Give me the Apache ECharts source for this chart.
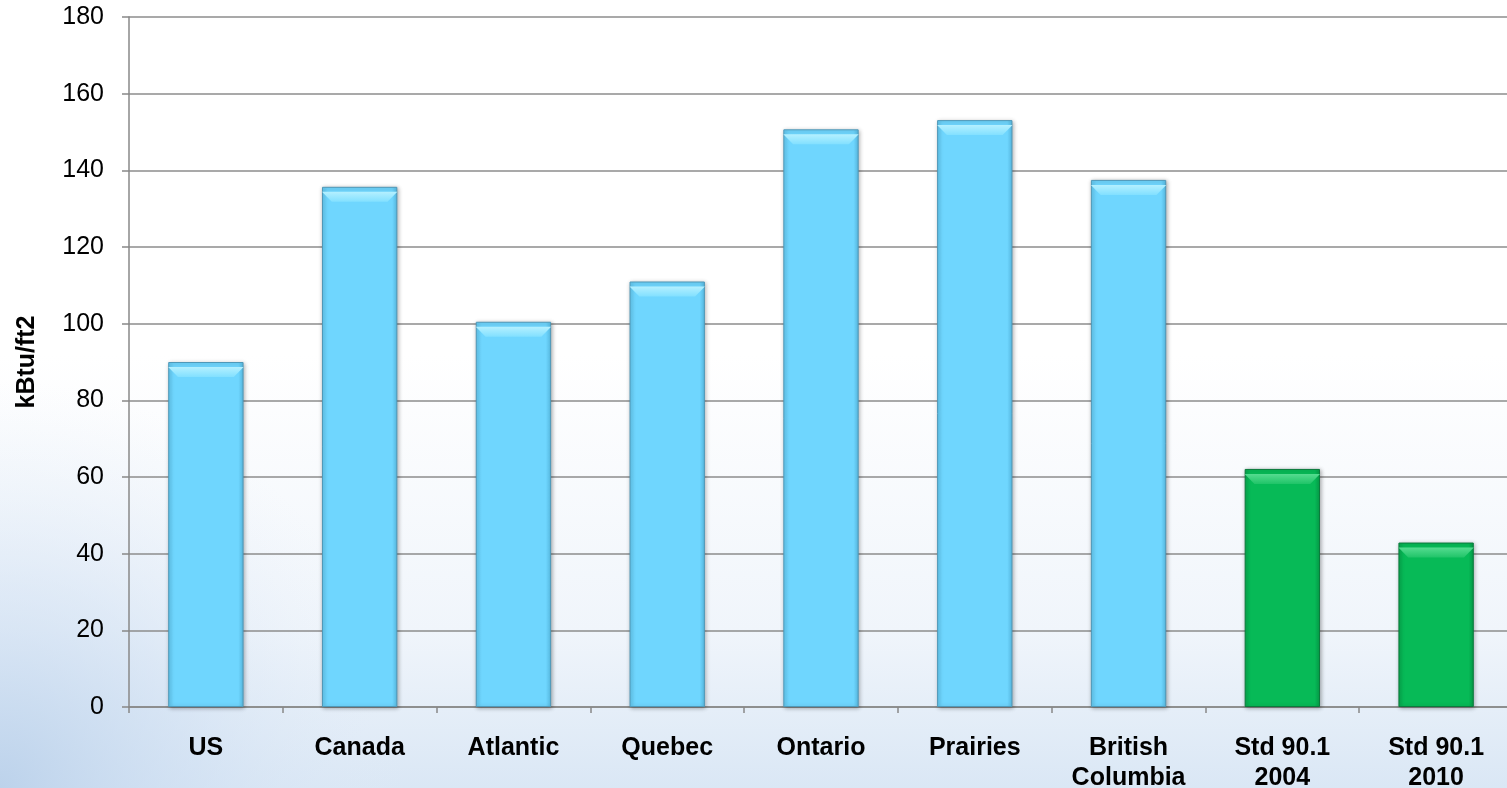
<!DOCTYPE html>
<html>
<head>
<meta charset="utf-8">
<script src="https://cdn.jsdelivr.net/npm/echarts@6/dist/echarts.min.js"></script>
<style>
html,body{margin:0;padding:0;background:#fff;}
#chart{width:1507px;height:788px;}
</style>
</head>
<body>
<div id="chart"></div>
<script>
const categories = ['US', 'Canada', 'Atlantic', 'Quebec', 'Ontario', 'Prairies', 'British\nColumbia', 'Std 90.1\n2004', 'Std 90.1\n2010'];
const values = [90, 135.7, 100.5, 111, 150.7, 153.1, 137.5, 62.1, 42.9];
const isStandard = [false, false, false, false, false, false, false, true, true];
const yAxisName = 'kBtu/ft2';

const blue = {
  type: 'linear', x: 0, y: 0, x2: 1, y2: 0,
  colorStops: [{offset: 0, color: '#62c8f0'}, {offset: 0.07, color: '#6fd6fe'}, {offset: 0.93, color: '#6fd6fe'}, {offset: 1, color: '#58bde6'}]
};
const green = {
  type: 'linear', x: 0, y: 0, x2: 1, y2: 0,
  colorStops: [{offset: 0, color: '#07a94e'}, {offset: 0.07, color: '#07ba57'}, {offset: 0.93, color: '#07ba57'}, {offset: 1, color: '#069e48'}]
};
const blueBevel = {
  type: 'linear', x: 0, y: 0, x2: 0, y2: 1,
  colorStops: [{offset: 0, color: '#b4f0ff'}, {offset: 1, color: '#82e0ff'}]
};
const greenBevel = {
  type: 'linear', x: 0, y: 0, x2: 0, y2: 1,
  colorStops: [{offset: 0, color: '#55dc90'}, {offset: 1, color: '#20c468'}]
};

const chart = echarts.init(document.getElementById('chart'));
chart.setOption({
  backgroundColor: {
    type: 'linear', x: 0, y: 0, x2: 0, y2: 1,
    colorStops: [{offset: 0, color: '#ffffff'}, {offset: 0.45, color: '#ffffff'}, {offset: 0.8, color: '#f0f5fb'}, {offset: 1, color: '#dae7f5'}]
  },
  graphic: [{
    type: 'rect', silent: true, z: -10,
    shape: {x: 0, y: 380, width: 900, height: 408},
    style: {
      fill: {
        type: 'radial', x: 0, y: 1, r: 1,
        colorStops: [{offset: 0, color: 'rgba(185,208,234,0.9)'}, {offset: 0.5, color: 'rgba(205,222,242,0.5)'}, {offset: 1, color: 'rgba(230,238,248,0)'}]
      }
    }
  }],
  animation: false,
  grid: {left: 129, right: -6, top: 17, bottom: 81, containLabel: false, outerBoundsMode: 'none'},
  xAxis: {
    type: 'category',
    data: categories,
    axisLine: {lineStyle: {color: '#888888', width: 1.5}},
    axisTick: {show: true, length: 6, lineStyle: {color: '#888888', width: 1.5}},
    axisLabel: {
      color: '#000', fontFamily: 'Liberation Sans, Arial, sans-serif', fontWeight: 'bold',
      fontSize: 25, lineHeight: 30, margin: 26, interval: 0
    }
  },
  yAxis: {
    type: 'value', min: 0, max: 180, interval: 20,
    name: yAxisName, nameLocation: 'middle', nameGap: 89,
    nameTextStyle: {color: '#000', fontFamily: 'Liberation Sans, Arial, sans-serif', fontWeight: 'bold', fontSize: 25},
    axisLine: {show: true, lineStyle: {color: '#888888', width: 1.5}},
    axisTick: {show: true, length: 7, lineStyle: {color: '#888888', width: 1.5}},
    axisLabel: {color: '#000', fontFamily: 'Liberation Sans, Arial, sans-serif', fontSize: 25, margin: 25},
    splitLine: {lineStyle: {color: '#8c8c8c', width: 1.5}}
  },
  series: [{
    type: 'bar',
    barWidth: '49%',
    barGap: '-100%',
    data: values.map((v, i) => ({
      value: v,
      itemStyle: {
        color: isStandard[i] ? green : blue,
        borderColor: isStandard[i] ? '#0b7a3c' : '#4f98b8',
        borderWidth: 1,
        shadowColor: 'rgba(0,0,0,0.3)', shadowBlur: 4, shadowOffsetX: 1, shadowOffsetY: 1
      }
    }))
  }, {
    type: 'pictorialBar',
    barWidth: '49%',
    barGap: '-100%',
    z: 5,
    silent: true,
    symbol: 'path://M0,0 L100,0 L87,10 L13,10 Z',
    symbolSize: ['100%', 10],
    symbolPosition: 'end',
    symbolOffset: [0, '50%'],
    data: values.map((v, i) => ({
      value: v,
      itemStyle: {color: isStandard[i] ? greenBevel : blueBevel}
    }))
  }]
});
</script>
</body>
</html>
